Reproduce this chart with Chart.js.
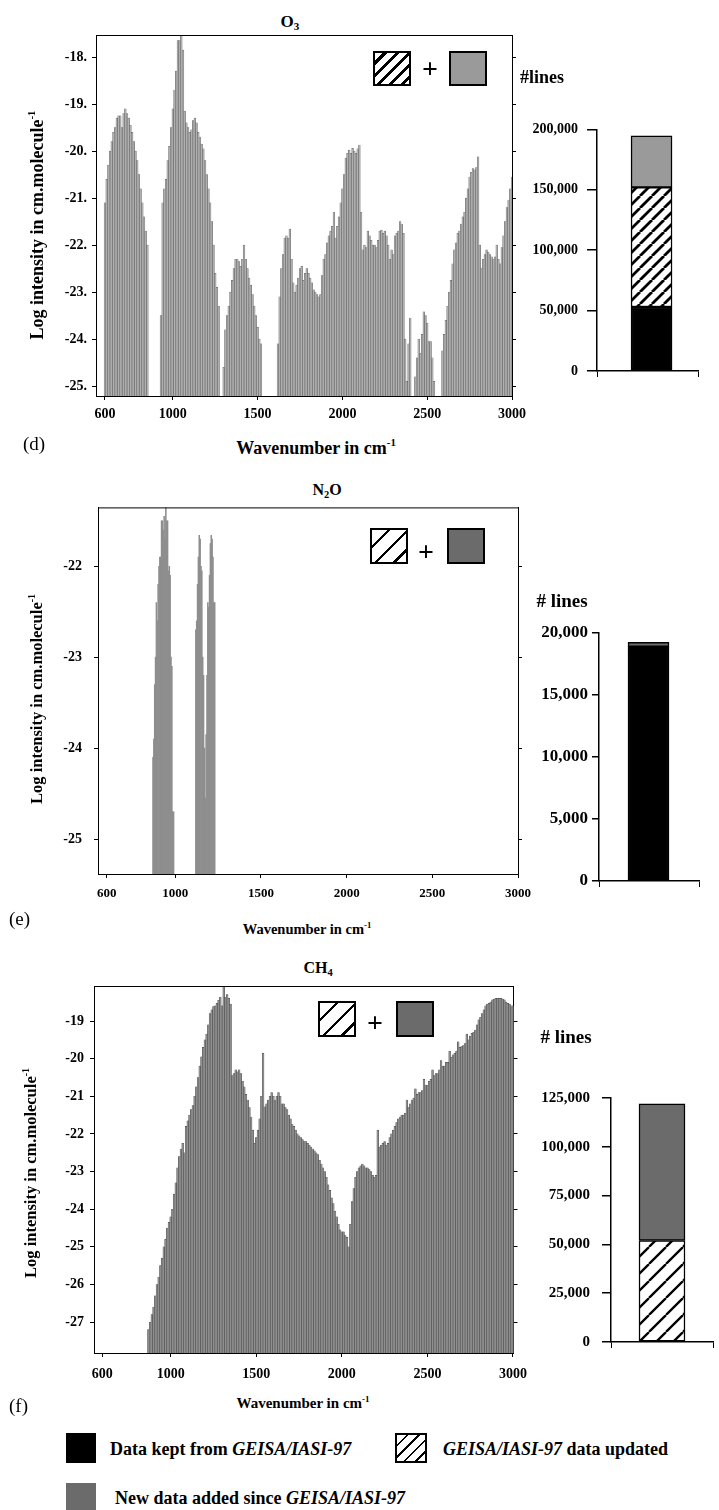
<!DOCTYPE html>
<html>
<head>
<meta charset="utf-8">
<title>O3, N2O, CH4 line intensities and line counts</title>
<script src="https://cdn.jsdelivr.net/npm/chart.js@4.4.1/dist/chart.umd.min.js"></script>
<style>
  html, body { margin: 0; padding: 0; background: #fff; }
  body {
    position: relative; width: 719px; height: 1510px; overflow: hidden;
    font-family: 'Liberation Serif', 'Times New Roman', serif; color: #000;
  }
  canvas { position: absolute; }
  .t  { position: absolute; white-space: nowrap; line-height: 1; font-weight: bold; transform: translate(-50%, -50%); }
  .tl { position: absolute; white-space: nowrap; line-height: 1; font-weight: bold; transform: translateY(-50%); }
  .rot { transform: translate(-50%, -50%) rotate(-90deg); }
  .tag { font-weight: normal; }
  sup { font-size: 60%; vertical-align: 0; position: relative; top: -0.7em; }
  sub { font-size: 65%; vertical-align: 0; position: relative; top: 0.3em; }
  .sq { position: absolute; box-sizing: border-box; border: 2px solid #000; }
  .hatch-thick { background: repeating-linear-gradient(135deg, #fff 0 5.6px, #000 5.6px 8.6px); }
  .hatch-thin  { background: repeating-linear-gradient(135deg, #fff 0 11px, #000 11px 13.2px); }
  .hatch-key   { background: repeating-linear-gradient(135deg, #fff 0 6.5px, #000 6.5px 8.2px); }
  .gray-light { background: #9a9a9a; }
  .gray-dark  { background: #6b6b6b; }
  .plus { font-size: 28px; }
  i { font-style: italic; }
</style>
</head>
<body>

<!-- (d) O3 -->
<div class="t" style="left:290px; top:21px; font-size:17px;">O<sub>3</sub></div>
<canvas id="o3Spec" width="532" height="421" style="left:0; top:15px;"></canvas>
<canvas id="o3Count" width="188" height="279" style="left:520px; top:112px;"></canvas>
<div class="t rot" style="left:37px; top:225px; font-size:18px;">Log intensity in cm.molecule<sup>-1</sup></div>
<div class="t" style="left:316px; top:448px; font-size:18px;">Wavenumber in cm<sup>-1</sup></div>
<div class="tl tag" style="left:23px; top:443px; font-size:19px;">(d)</div>
<div class="sq hatch-thick" style="left:373px; top:51px; width:38px; height:35px;"></div>
<div class="t plus" style="left:430px; top:69px;">+</div>
<div class="sq gray-light" style="left:449px; top:51px; width:38px; height:35px;"></div>
<div class="t" style="left:542px; top:77px; font-size:18px;">#lines</div>

<!-- (e) N2O -->
<div class="t" style="left:327px; top:490px; font-size:16px;">N<sub>2</sub>O</div>
<canvas id="n2oSpec" width="539" height="427" style="left:0; top:487px;"></canvas>
<canvas id="n2oCount" width="189" height="283" style="left:520px; top:618px;"></canvas>
<div class="t rot" style="left:37px; top:699px; font-size:16.5px;">Log intensity in cm.molecule<sup>-1</sup></div>
<div class="t" style="left:307px; top:929px; font-size:14.5px;">Wavenumber in cm<sup>-1</sup></div>
<div class="tl tag" style="left:9px; top:918px; font-size:19px;">(e)</div>
<div class="sq hatch-thin" style="left:370px; top:528px; width:38px; height:36px;"></div>
<div class="t plus" style="left:426px; top:552px;">+</div>
<div class="sq gray-dark" style="left:447px; top:528px; width:38px; height:36px;"></div>
<div class="t" style="left:562px; top:600px; font-size:19px;"># lines</div>

<!-- (f) CH4 -->
<div class="t" style="left:318px; top:968px; font-size:16px;">CH<sub>4</sub></div>
<canvas id="ch4Spec" width="536" height="427" style="left:0; top:966px;"></canvas>
<canvas id="ch4Count" width="189" height="286" style="left:530px; top:1077px;"></canvas>
<div class="t rot" style="left:31px; top:1173px; font-size:16.5px;">Log intensity in cm.molecule<sup>-1</sup></div>
<div class="t" style="left:303px; top:1403px; font-size:15px;">Wavenumber in cm<sup>-1</sup></div>
<div class="tl tag" style="left:9px; top:1405px; font-size:19px;">(f)</div>
<div class="sq hatch-thin" style="left:318px; top:1001px; width:38px; height:36px;"></div>
<div class="t plus" style="left:375px; top:1023px;">+</div>
<div class="sq gray-dark" style="left:396px; top:1001px; width:38px; height:36px;"></div>
<div class="t" style="left:566px; top:1036px; font-size:19px;"># lines</div>

<!-- key -->
<div class="sq" style="left:66px; top:1433px; width:30px; height:30px; background:#000;"></div>
<div class="tl" style="left:110px; top:1449px; font-size:18px;">Data kept from <i>GEISA/IASI-97</i></div>
<div class="sq hatch-key" style="left:395px; top:1433px; width:32px; height:30px;"></div>
<div class="tl" style="left:443px; top:1449px; font-size:18px;"><i>GEISA/IASI-97</i> data updated</div>
<div class="sq gray-dark" style="left:66px; top:1483px; width:30px; height:32px; border:none;"></div>
<div class="tl" style="left:115px; top:1498px; font-size:18px;">New data added since <i>GEISA/IASI-97</i></div>

<script>
/* ---------- data ---------- */

// wavenumber ticks (cm-1), shared by the three spectra
const waveTicks = [600, 1000, 1500, 2000, 2500, 3000];

// O3: log10 line intensity, one value every 10 cm-1 from each band start
const o3BandStarts = [600, 930, 1300, 1620, 2430, 2590];
const o3Band1 = [-21.1, -20.6, -20.3, -20.0, -19.8, -19.6, -19.5, -19.3, -19.25, -19.25,
  -19.5, -19.2, -19.1, -19.2, -19.3, -19.45, -19.6, -19.8, -20.0, -20.2,
  -20.5, -20.8, -21.1, -21.4, -21.7, -22.0];
const o3Band2 = [-23.5, -21.1, -20.8, -20.6, -20.2, -19.9, -19.5, -19.1, -18.7, -18.3,
  -17.65, -17.65, -17.3, -17.85, -19.15, -19.4, -19.5, -19.6, -19.55, -19.35,
  -19.3, -19.4, -19.6, -19.7, -19.85, -19.95, -20.2, -20.5, -20.8, -21.1,
  -21.5, -22.0, -22.6, -22.9, -23.3];
const o3Band3 = [-24.6, -23.8, -23.5, -23.3, -23.0, -22.75, -22.5, -22.3, -22.3, -22.35,
  -22.45, -22.3, -22.0, -22.3, -22.5, -22.7, -22.85, -23.05, -23.3, -23.5,
  -23.75, -24.0, -24.1];
const o3Band4 = [-24.1, -23.1, -22.5, -22.2, -21.85, -21.8, -21.85, -21.66, -22.3, -22.8,
  -23.0, -22.85, -22.7, -22.5, -22.45, -22.75, -22.6, -22.5, -22.6, -22.7,
  -22.8, -22.95, -23.0, -23.05, -23.1, -23.05, -22.65, -22.3, -22.2, -21.95,
  -21.8, -21.7, -21.6, -21.3, -21.85, -21.6, -21.4, -21.1, -20.8, -20.5,
  -20.15, -20.05, -19.98, -20.05, -19.94, -20.0, -20.05, -19.95, -19.87, -21.3,
  -22.1, -22.0, -22.05, -21.7, -21.8, -21.9, -22.0, -22.0, -22.05, -21.9,
  -21.7, -21.68, -21.75, -21.7, -21.8, -22.0, -22.3, -22.1, -22.2, -21.8,
  -21.75, -21.7, -21.5, -21.55, -21.75, -24.0, -24.9, -24.1, -23.55];
const o3Band5 = [-24.8, -24.4, -24.0, -24.3, -23.9, -23.42, -23.5, -23.66, -24.05, -24.05,
  -24.4, -24.9];
const o3Band6 = [-24.25, -23.9, -23.6, -23.3, -23.0, -22.75, -22.4, -22.1, -21.95, -21.75,
  -21.7, -21.55, -21.4, -21.3, -21.0, -20.8, -20.55, -20.45, -20.37, -20.4,
  -20.35, -20.12, -22.0, -22.5, -22.3, -22.2, -22.1, -22.15, -22.2, -22.25,
  -22.3, -22.25, -22.0, -22.3, -22.4, -22.05, -21.8, -21.5, -21.2, -21.04,
  -20.8, -20.55];
const o3LogTicks = [-18, -19, -20, -21, -22, -23, -24, -25];
const o3LogLabels = ['-18.', '-19.', '-20.', '-21.', '-22.', '-23.', '-24.', '-25.'];

// N2O: one value every 5 cm-1 from each band start
const n2oBandStarts = [870, 1120];
const n2oBand1 = [-24.1, -23.9, -23.3, -23.0, -22.4, -22.6, -22.2, -22.0, -21.9, -21.9,
  -21.5, -21.5, -21.6, -21.45, -21.7, -21.2, -21.5, -21.5, -22.05, -22.0,
  -22.1, -23.0, -23.1, -24.7, -24.7];
const n2oBand2 = [-22.7, -22.6, -22.2, -21.9, -21.66, -21.7, -22.0, -22.05, -23.0, -23.2,
  -24.0, -24.55, -23.85, -23.2, -22.4, -22.45, -22.1, -21.75, -21.66, -21.7,
  -21.9, -22.4, -22.4];
const n2oLogTicks = [-22, -23, -24, -25];
const n2oLogLabels = ['-22', '-23', '-24', '-25'];

// CH4: one value every 10 cm-1 from 870 to 3000 cm-1
const ch4BandStarts = [870];
const ch4Band1 = [
  -27.2, -27.0, -26.8, -26.6, -26.3, -26.0, -25.8, -25.5, -25.3, -25.0,
  -24.8, -24.5, -24.35, -24.2, -24.0, -23.6, -23.3, -22.9, -22.6, -22.4,
  -22.25, -22.5, -21.8, -21.65, -21.5, -21.35, -21.25, -21.0, -20.75, -20.5,
  -20.2, -19.95, -19.7, -19.5, -19.35, -19.1, -18.8, -18.7, -18.62, -18.6,
  -18.53, -18.45, -18.37, -18.6, -17.9, -18.37, -18.3, -18.4, -18.55, -20.45,
  -20.4, -20.3, -20.35, -20.3, -20.4, -20.6, -20.75, -20.95, -21.1, -21.3,
  -21.55, -21.9, -22.25, -22.1, -21.9, -21.6, -21.0, -19.86, -21.28, -21.2,
  -21.1, -21.0, -20.9, -21.0, -21.1, -21.0, -20.9, -21.0, -21.2, -21.2,
  -21.3, -21.35, -21.5, -21.6, -21.75, -21.8, -21.9, -22.0, -22.05, -22.1,
  -22.15, -22.2, -22.2, -22.25, -22.3, -22.35, -22.4, -22.45, -22.5, -22.55,
  -22.7, -22.8, -22.9, -23.0, -23.15, -23.35, -23.5, -23.7, -23.85, -24.05,
  -24.2, -24.4, -24.55, -24.6, -24.6, -24.7, -24.75, -25.0, -24.4, -23.8,
  -23.45, -23.15, -23.0, -22.9, -22.85, -22.8, -22.85, -22.9, -22.9, -22.95,
  -23.0, -23.1, -23.15, -23.1, -21.9, -22.35, -22.3, -22.25, -22.2, -22.3,
  -22.25, -22.1, -22.0, -21.9, -21.8, -21.7, -21.6, -21.55, -21.5, -21.5,
  -21.45, -21.1, -21.3, -21.2, -21.1, -21.05, -20.8, -20.95, -20.9, -20.9,
  -20.85, -20.55, -20.7, -20.7, -20.6, -20.55, -20.3, -20.45, -20.4, -20.4,
  -20.3, -20.05, -20.2, -20.2, -20.1, -20.1, -19.8, -19.96, -19.9, -19.86,
  -19.8, -19.55, -19.7, -19.68, -19.65, -19.6, -19.35, -19.5, -19.4, -19.33,
  -19.3, -19.24, -19.1, -18.97, -18.9, -18.8, -18.7, -18.6, -18.55, -18.53,
  -18.5, -18.44, -18.42, -18.4, -18.4, -18.4, -18.4, -18.42, -18.44, -18.5,
  -18.53, -18.55, -18.6, -18.6];
const ch4LogTicks = [-19, -20, -21, -22, -23, -24, -25, -26, -27];
const ch4LogLabels = ['-19', '-20', '-21', '-22', '-23', '-24', '-25', '-26', '-27'];

// number of lines per source: kept from GEISA/IASI-97, updated, newly added
const sources = ['Data kept from GEISA/IASI-97', 'GEISA/IASI-97 data updated', 'New data added since GEISA/IASI-97'];
const o3Counts  = [53000, 99000, 42600];
const n2oCounts = [18900, 0, 350];
const ch4Counts = [0, 52000, 70000];
const o3CountTicks  = [0, 50000, 100000, 150000, 200000];
const n2oCountTicks = [0, 5000, 10000, 15000, 20000];
const ch4CountTicks = [0, 25000, 50000, 75000, 100000, 125000];

/* ---------- helpers ---------- */

const FONT = "'Liberation Serif', 'Times New Roman', serif";
Chart.defaults.font.family = FONT;
Chart.defaults.color = '#000';

function bandPoints(starts, bands, step) {
  const pts = [];
  bands.forEach((band, b) => band.forEach((v, i) => pts.push({ x: starts[b] + i * step, y: v })));
  return pts;
}

function tickList(values) {
  return scale => { scale.ticks = values.map(v => ({ value: v })); };
}

function axisGrid(len) {
  return { drawOnChartArea: false, drawTicks: true, tickLength: len, color: '#000', lineWidth: 1 };
}

// line along the top of the plot frame
const frameTop = {
  id: 'frameTop',
  afterDraw(chart) {
    const { ctx, chartArea: a } = chart;
    ctx.save();
    ctx.strokeStyle = '#000';
    ctx.lineWidth = 1;
    ctx.beginPath();
    ctx.moveTo(a.left, a.top + 0.5);
    ctx.lineTo(a.right + 0.5, a.top + 0.5);
    ctx.stroke();
    ctx.restore();
  }
};

function spectrum(id, o) {
  const font = { family: FONT, weight: 'bold', size: o.tickSize };
  return new Chart(document.getElementById(id), {
    type: 'bar',
    data: {
      datasets: [{
        data: o.points,
        base: o.yMin,
        clip: 0,
        barThickness: o.barW,
        backgroundColor: o.fill,
        borderColor: o.edge,
        borderWidth: o.edgeW,
        borderSkipped: 'start'
      }]
    },
    options: {
      responsive: false,
      animation: false,
      devicePixelRatio: 1,
      events: [],
      layout: { padding: { top: o.padTop } },
      plugins: { legend: { display: false }, tooltip: { enabled: false } },
      scales: {
        x: {
          type: 'linear', min: o.xMin, max: o.xMax, offset: false,
          grid: { ...axisGrid(4), offset: false },
          border: { display: true, color: '#000', width: 1 },
          afterBuildTicks: tickList(waveTicks),
          afterFit: s => { s.height = o.xH; },
          ticks: {
            font: { ...font, size: o.xTickSize }, padding: o.xPad, autoSkip: false, maxRotation: 0,
            callback: v => String(v)
          }
        },
        y: {
          type: 'linear', position: 'left', min: o.yMin, max: o.yMax, beginAtZero: false,
          grid: axisGrid(4),
          border: { display: true, color: '#000', width: 1 },
          afterBuildTicks: tickList(o.yTicks),
          afterFit: s => { s.width = o.yW; },
          ticks: { font, padding: o.yPad, callback: (v, i) => o.yLabels[i] }
        },
        y2: {
          type: 'linear', position: 'right', min: o.yMin, max: o.yMax, beginAtZero: false,
          grid: axisGrid(4),
          border: { display: true, color: '#000', width: 1 },
          afterBuildTicks: tickList(o.yTicks),
          afterFit: s => { s.width = o.y2W; },
          ticks: { color: 'rgba(0,0,0,0)', font }
        }
      }
    },
    plugins: [frameTop]
  });
}

function hatchPattern(canvasId, period, width) {
  const tile = document.createElement('canvas');
  tile.width = tile.height = period;
  const g = tile.getContext('2d');
  g.fillStyle = '#fff';
  g.fillRect(0, 0, period, period);
  g.strokeStyle = '#000';
  g.lineWidth = width;
  g.beginPath();
  for (let k = -1; k <= 1; k++) {
    g.moveTo(k * period, period);
    g.lineTo(k * period + period, 0);
  }
  g.stroke();
  return document.getElementById(canvasId).getContext('2d').createPattern(tile, 'repeat');
}

function lineCount(id, o) {
  const fills = ['#000', hatchPattern(id, o.hatch[0], o.hatch[1]), o.gray];
  return new Chart(document.getElementById(id), {
    type: 'bar',
    data: {
      datasets: sources.map((name, k) => ({
        label: name,
        data: [{ x: o.at, y: o.counts[k] }],
        backgroundColor: fills[k],
        borderColor: '#000',
        borderWidth: 1.5,
        borderSkipped: false,
        barThickness: o.barW,
        clip: 0
      }))
    },
    options: {
      responsive: false,
      animation: false,
      devicePixelRatio: 1,
      events: [],
      layout: { padding: { top: o.padTop, right: o.padRight } },
      plugins: { legend: { display: false }, tooltip: { enabled: false } },
      scales: {
        x: {
          type: 'linear', min: 0, max: 1, stacked: true, offset: false,
          grid: { ...axisGrid(6), offset: false },
          border: { display: true, color: '#000', width: 1.5 },
          afterBuildTicks: tickList([0, 1]),
          afterFit: s => { s.height = 20; },
          ticks: { color: 'rgba(0,0,0,0)' }
        },
        y: {
          type: 'linear', min: 0, max: o.max, stacked: true,
          grid: { ...axisGrid(o.tickLen), lineWidth: 1.5 },
          border: { display: true, color: '#000', width: 1.5 },
          afterBuildTicks: tickList(o.ticks),
          afterFit: s => { s.width = o.yW; },
          ticks: {
            font: { family: FONT, weight: 'bold', size: o.tickSize },
            padding: o.pad,
            callback: v => v.toLocaleString('en-US')
          }
        }
      }
    }
  });
}

/* ---------- spectra ---------- */

spectrum('o3Spec', {
  points: bandPoints(o3BandStarts, [o3Band1, o3Band2, o3Band3, o3Band4, o3Band5, o3Band6], 10),
  xMin: 547, xMax: 3000, yMin: -25.21, yMax: -17.53,
  yTicks: o3LogTicks, yLabels: o3LogLabels,
  padTop: 20, yW: 96, y2W: 20, xH: 40,
  tickSize: 14, xTickSize: 14, yPad: 5, xPad: 6,
  barW: 1.7, fill: '#b0b0b0', edge: '#5a5a5a', edgeW: 0.45
});

spectrum('n2oSpec', {
  points: bandPoints(n2oBandStarts, [n2oBand1, n2oBand2], 5),
  xMin: 549, xMax: 3000, yMin: -25.384, yMax: -21.353,
  yTicks: n2oLogTicks, yLabels: n2oLogLabels,
  padTop: 20, yW: 98, y2W: 20, xH: 40,
  tickSize: 14, xTickSize: 13, yPad: 12, xPad: 8,
  barW: 0.9, fill: '#8e8e8e', edge: '#8e8e8e', edgeW: 0
});

spectrum('ch4Spec', {
  points: bandPoints(ch4BandStarts, [ch4Band1], 10),
  xMin: 552, xMax: 3003, yMin: -27.82, yMax: -18.07,
  yTicks: ch4LogTicks, yLabels: ch4LogLabels,
  padTop: 20, yW: 94, y2W: 20, xH: 40,
  tickSize: 14, xTickSize: 14, yPad: 6, xPad: 9,
  barW: 1.75, fill: '#8f8f8f', edge: '#3c3c3c', edgeW: 0.4
});

/* ---------- line counts ---------- */

lineCount('o3Count', {
  counts: o3Counts, max: 200000, ticks: o3CountTicks,
  at: 0.54, barW: 41, yW: 77, padTop: 15, padRight: 10,
  tickLen: 10, pad: 9, tickSize: 14, hatch: [12, 2.8], gray: '#9a9a9a'
});

lineCount('n2oCount', {
  counts: n2oCounts, max: 20000, ticks: n2oCountTicks,
  at: 0.495, barW: 41, yW: 79, padTop: 15, padRight: 10,
  tickLen: 7, pad: 4, tickSize: 17, hatch: [16, 2.3], gray: '#6b6b6b'
});

lineCount('ch4Count', {
  counts: ch4Counts, max: 125000, ticks: ch4CountTicks,
  at: 0.5, barW: 46, yW: 81, padTop: 15, padRight: 0,
  tickLen: 9, pad: 12, tickSize: 15, hatch: [17, 2.3], gray: '#6b6b6b'
});
</script>
</body>
</html>
